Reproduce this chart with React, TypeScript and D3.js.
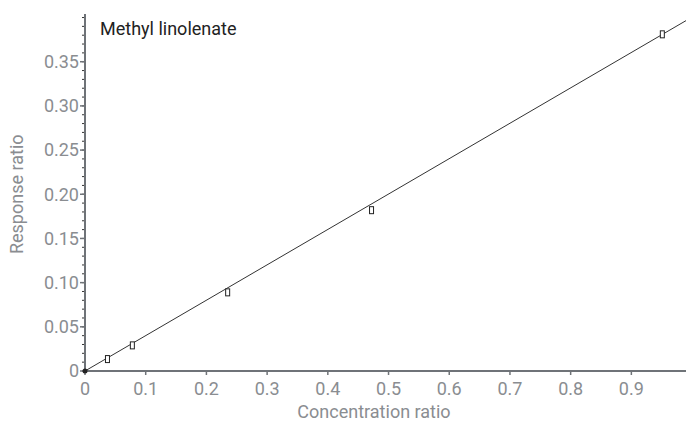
import React from "react";
import * as d3 from "d3";

const pointsX = [0.037, 0.078, 0.235, 0.472, 0.951];
const pointsY = [0.0135, 0.029, 0.089, 0.182, 0.381];
const fitLine = [[0, 0], [0.99, 0.3965]];
const xTicks = [0, 0.1, 0.2, 0.3, 0.4, 0.5, 0.6, 0.7, 0.8, 0.9];
const yTicks = [0, 0.05, 0.1, 0.15, 0.2, 0.25, 0.3, 0.35];
const yMinor = d3.range(0, 0.401, 0.01);
const title = "Methyl linolenate";
const xLabel = "Concentration ratio";
const yLabel = "Response ratio";

export default function App() {
  const W = 686, H = 421;
  const x = d3.scaleLinear().domain([0, 0.99]).range([85, 686]);
  const y = d3.scaleLinear().domain([0, 0.404]).range([371, 14]);
  const axisColor = "#6f7378";
  const labelColor = "#8a8d91";
  const font = "Roboto, sans-serif";
  const line = d3.line<number[]>().x(d => x(d[0])).y(d => y(d[1]));
  return (
    <svg width={W} height={H} style={{ position: "absolute", left: 0, top: 0 }}>
      <rect width={W} height={H} fill="#fff" />
      <path d={line(fitLine as any) || ""} stroke="#333" strokeWidth={1} fill="none" />
      {yMinor.map((v, i) => (
        <line key={"ym" + i} x1={x(0) - 3} x2={x(0)} y1={y(v)} y2={y(v)} stroke="#333" strokeWidth={1} />
      ))}
      {yTicks.map((v, i) => (
        <g key={"y" + i}>
          <line x1={x(0) - 5} x2={x(0)} y1={y(v)} y2={y(v)} stroke={axisColor} strokeWidth={1.5} />
          <text x={x(0) - 6} y={y(v)} dy="0.35em" textAnchor="end" fontFamily={font} fontSize={18} fill={labelColor}>
            {v === 0 ? "0" : v.toFixed(2)}
          </text>
        </g>
      ))}
      {xTicks.map((v, i) => (
        <g key={"x" + i}>
          <line x1={x(v)} x2={x(v)} y1={y(0)} y2={y(0) + 4} stroke={axisColor} strokeWidth={1.5} />
          <text x={x(v)} y={y(0) + 24} textAnchor="middle" fontFamily={font} fontSize={18} fill={labelColor}>
            {v === 0 ? "0" : String(v)}
          </text>
        </g>
      ))}
      <line x1={x(0)} x2={x(0)} y1={14} y2={y(0)} stroke={axisColor} strokeWidth={2} />
      <line x1={x(0)} x2={686} y1={y(0)} y2={y(0)} stroke={axisColor} strokeWidth={2} />
      {pointsX.map((px, i) => (
        <rect key={"p" + i} x={x(px) - 2} y={y(pointsY[i]) - 3.5} width={4} height={7} fill="#fff" stroke="#222" strokeWidth={1} />
      ))}
      <circle cx={x(0)} cy={y(0)} r={2.5} fill="#222" />
      <text x={100} y={35} fontFamily={font} fontSize={18} fill="#222">{title}</text>
      <text x={374} y={418} textAnchor="middle" fontFamily={font} fontSize={18} fill={labelColor}>{xLabel}</text>
      <text transform={`translate(23,${y(0.2)}) rotate(-90)`} textAnchor="middle" fontFamily={font} fontSize={18} fill={labelColor}>{yLabel}</text>
    </svg>
  );
}
